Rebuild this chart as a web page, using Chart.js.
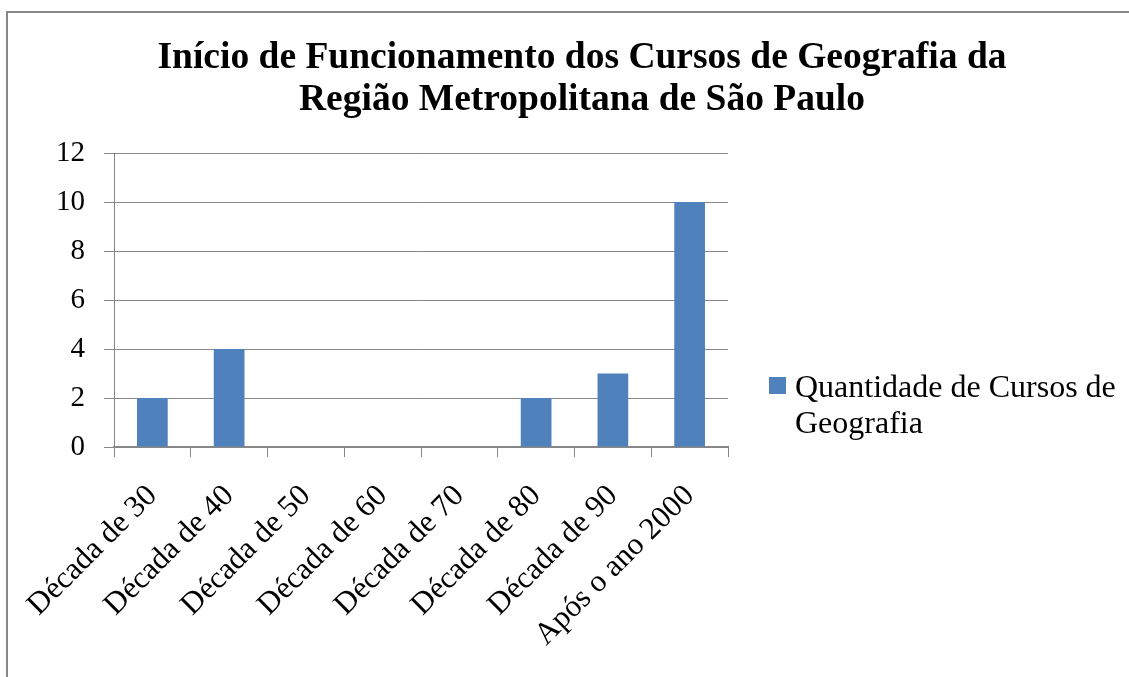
<!doctype html>
<html lang="pt">
<head>
<meta charset="utf-8">
<title>Cursos de Geografia</title>
<script src="https://cdn.jsdelivr.net/npm/chart.js@4/dist/chart.umd.min.js"></script>
<style>
  html, body { margin: 0; padding: 0; background: #fff; overflow: hidden; }
  #box { position: absolute; left: 6px; top: 11px; width: 1148px; height: 680px; border: 2px solid #878787; }
  #legenda { position: absolute; left: 769px; top: 368px; display: flex; font-family: "Liberation Serif", "Times New Roman", serif; font-size: 32px; line-height: 36px; color: #000; }
  #legenda .cor { width: 17px; height: 17px; background: #4F81BD; margin-top: 9px; margin-right: 9px; flex: none; }
  #legenda .txt { width: 340px; }
</style>
</head>
<body>
<div id="box"><canvas id="grafico" width="1148" height="680"></canvas></div>
<div id="legenda"></div>
<script>
// dados
var decadas = ["Década de 30", "Década de 40", "Década de 50", "Década de 60", "Década de 70", "Década de 80", "Década de 90", "Após o ano 2000"];
var quantidade = [2, 4, 0, 0, 0, 2, 3, 10];
var nomeSerie = "Quantidade de Cursos de Geografia";
var titulo = ["Início de Funcionamento dos Cursos de Geografia da", "Região Metropolitana de São Paulo"];
var yMin = 0, yMax = 12, yPasso = 2;

var serif = '"Liberation Serif", "Times New Roman", serif';
var cinza = "#878787";
var azul = "#4F81BD";

// legenda em HTML para poder quebrar a linha como no original
document.getElementById("legenda").innerHTML =
  '<div class="cor"></div><div class="txt">' + nomeSerie + '</div>';

new Chart(document.getElementById("grafico"), {
  type: "bar",
  data: {
    labels: decadas,
    datasets: [{
      label: nomeSerie,
      data: quantidade,
      backgroundColor: azul,
      borderWidth: 0,
      barPercentage: 0.4,
      categoryPercentage: 1
    }]
  },
  options: {
    responsive: false,
    animation: false,
    events: [],
    plugins: {
      legend: { display: false },
      tooltip: { enabled: false },
      title: {
        display: true,
        text: titulo,
        color: "#000",
        font: { family: serif, size: 37.5, weight: "bold", lineHeight: 1.12 },
        padding: { top: 24, bottom: 32 }
      }
    },
    scales: {
      x: {
        grid: { drawOnChartArea: false, drawTicks: true, tickLength: 10, color: cinza, offset: true },
        border: { color: cinza, width: 2 },
        ticks: { color: "#000", font: { family: serif, size: 31 }, minRotation: 45, maxRotation: 45, padding: 21 },
        afterFit: function (s) { s.height = 246; s.paddingLeft = 0; s.paddingRight = 0; }
      },
      y: {
        min: yMin,
        max: yMax,
        grid: { color: cinza, tickLength: 10, lineWidth: 1 },
        border: { color: cinza, width: 1 },
        ticks: { stepSize: yPasso, color: "#000", font: { family: serif, size: 29 }, padding: 19 },
        afterFit: function (s) { s.width = 106; }
      },
      // eixo vazio à direita: reserva o espaço da legenda sem deslocar o título
      espaco: {
        position: "right",
        grid: { display: false },
        border: { display: false },
        ticks: { display: false },
        afterFit: function (s) { s.width = 428; s.paddingTop = 0; s.paddingBottom = 0; }
      }
    }
  }
});
</script>
</body>
</html>
